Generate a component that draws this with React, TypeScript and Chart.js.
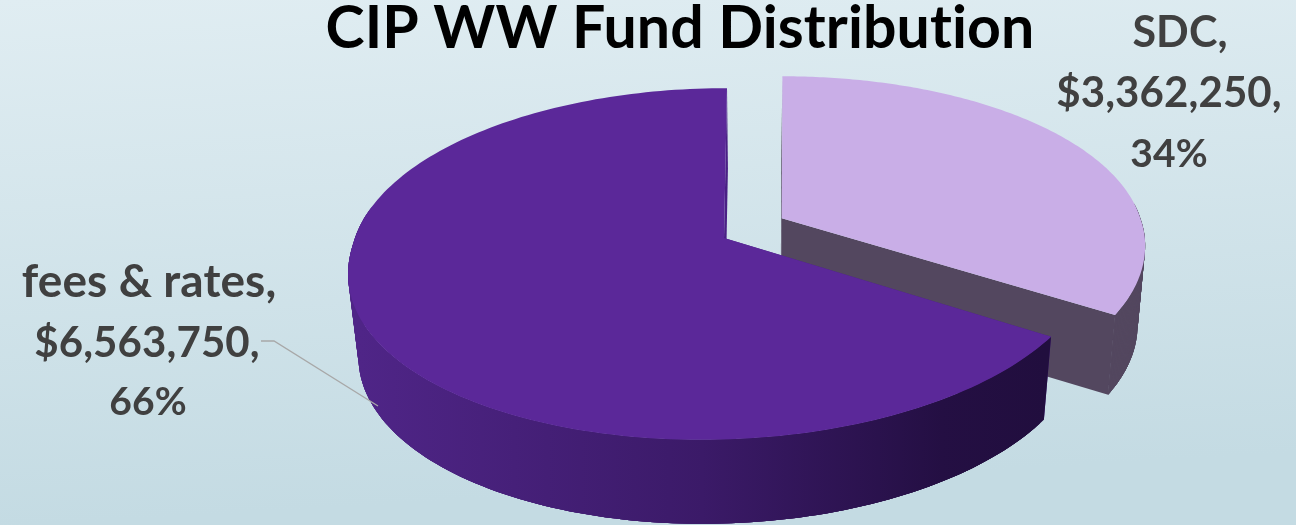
import React, { useEffect, useRef } from "react";
import { Chart, registerables } from "chart.js";

Chart.register(...registerables);

const categories = ["SDC", "fees & rates"];
const values = [3362250, 6563750];
const percentLabels = ["34%", "66%"];
const faceColors = ["#c9aee7", "#5b2899"];
const titleText = "CIP WW Fund Distribution";

// Perspective model of the pie's top plane
const APEX_X = 724, APEX_Y = 238, SCALE_X = 372, SCALE_Y = 172, PERSP = 0.1477;
const BOTTOM_SY = 1.01;
const DROP = [79, 82];
const BOTTOM_SX = [0.982, 0.975];
const RADII = [0.975, 1];
const SHIFT_X = [0.158, 0];
const SHIFT_Y = [-0.117, 0];

const project = (i: number, angle: number, r: number) => {
  const X = SHIFT_X[i] + r * RADII[i] * Math.cos(angle);
  const Y = SHIFT_Y[i] + r * RADII[i] * Math.sin(angle);
  const w = 1 - PERSP * Y;
  let x = APEX_X + (SCALE_X * X) / w;
  let y = APEX_Y + (SCALE_Y * Y) / w;
  if (i === 0) {
    x += 8 * Math.max(-Y - 0.117, 0) + 2 * Math.max(X - 0.158, 0);
    y += 10 * Math.max(Y, 0);
  } else {
    x += Y > 0 ? (-25 * Y * Y) / (Y + 0.1) : -3 * Y;
    x += X < 0 ? -3 * X : -5 * X;
  }
  return [x, y];
};
const lower = (i: number, p: number[]) => [
  APEX_X + (p[0] - APEX_X) * BOTTOM_SX[i] + (i === 1 ? 1 : 0),
  APEX_Y + DROP[i] + (p[1] - APEX_Y) * BOTTOM_SY,
];

const ARC_STEPS = 180;
const arcAngles = (a0: number, a1: number) => {
  const out: number[] = [];
  for (let k = 0; k <= ARC_STEPS; k++) out.push(a0 + ((a1 - a0) * k) / ARC_STEPS);
  return out;
};

const tracePoly = (ctx: CanvasRenderingContext2D, pts: number[][]) => {
  ctx.beginPath();
  pts.forEach((p, k) => (k ? ctx.lineTo(p[0], p[1]) : ctx.moveTo(p[0], p[1])));
  ctx.closePath();
};

const pie3d = {
  id: "pie3d",
  beforeDraw(chart: any) {
    const { ctx, width, height } = chart;
    const g = ctx.createLinearGradient(0, 0, 30, height);
    g.addColorStop(0, "#e0edf2");
    g.addColorStop(1, "#c4dbe3");
    ctx.fillStyle = g;
    ctx.fillRect(0, 0, width, height);
    (ctx as any).letterSpacing = "0.1px";
  },
  afterLayout(chart: any) {
    if (chart.titleBlock) {
      chart.titleBlock.left += 32;
      chart.titleBlock.right += 32;
      chart.titleBlock.top -= 6;
      chart.titleBlock.bottom -= 6;
    }
  },
  beforeDatasetsDraw(chart: any) {
    const { ctx } = chart;
    const arcs = chart.getDatasetMeta(0).data;
    // far slice first, the big slice over it
    [0, 1].forEach((i) => {
      const el = arcs[i];
      const angles = arcAngles(el.startAngle, el.endAngle);
      const top = angles.map((a) => project(i, a, 1));
      const apex = project(i, 0, 0);
      ctx.save();
      // cut walls
      ctx.fillStyle = i === 0 ? "#53475f" : "#4a2085";
      [top[0], top[top.length - 1]].forEach((edge) => {
        tracePoly(ctx, [apex, edge, lower(i, edge), lower(i, apex)]);
        ctx.fill();
      });
      // outer wall as overlapping ruled strips, front side only
      let paint: any = "#53475f";
      if (i === 1) {
        const g = ctx.createLinearGradient(360, 0, 1045, 0);
        g.addColorStop(0, "#4f2587");
        g.addColorStop(0.5, "#3b1a68");
        g.addColorStop(0.85, "#240f43");
        g.addColorStop(1, "#210e3e");
        paint = g;
      }
      ctx.fillStyle = paint;
      for (let k = 0; k < top.length - 1; k++) {
        if (Math.sin(angles[k]) < -0.1) continue;
        const e = Math.min(k + 4, top.length - 1);
        const band = top.slice(k, e + 1);
        tracePoly(ctx, [...band, ...band.map((p) => lower(i, p)).reverse()]);
        ctx.fill();
      }
      // top face
      tracePoly(ctx, [apex, ...top]);
      ctx.fillStyle = faceColors[i];
      ctx.fill();
      ctx.restore();
    });

    // leader line and data labels
    const money = (v: number) => "$" + v.toLocaleString("en-US") + ",";
    ctx.save();
    ctx.strokeStyle = "#a8a8a8";
    ctx.lineWidth = 1.3;
    ctx.beginPath();
    ctx.moveTo(261, 341);
    ctx.lineTo(274, 341);
    ctx.lineTo(378, 406);
    ctx.stroke();
    ctx.fillStyle = "#404040";
    ctx.textAlign = "center";
    ctx.textBaseline = "alphabetic";
    const sdcLines = [categories[0] + ",", money(values[0]), percentLabels[0]];
    const feeLines = [categories[1] + ",", money(values[1]), percentLabels[1]];
    const sdcX = [1180, 1169, 1169], sdcY = [47, 107, 167];
    const feeX = [149, 147, 148], feeY = [297, 357, 415];
    const sdcSizes = [43, 42, 39], feeSizes = [46, 42, 39];
    sdcLines.forEach((t, k) => {
      ctx.font = `bold ${sdcSizes[k]}px "Lato"`;
      ctx.fillText(t, sdcX[k], sdcY[k]);
    });
    feeLines.forEach((t, k) => {
      ctx.font = `bold ${feeSizes[k]}px "Lato"`;
      ctx.fillText(t, feeX[k], feeY[k]);
    });
    ctx.restore();
  },
  beforeDatasetDraw() {
    return false;
  },
};

export default function App() {
  const ref = useRef<HTMLCanvasElement>(null);
  useEffect(() => {
    document.body.style.margin = "0";
    const chart = new Chart(ref.current!, {
      type: "pie",
      data: {
        labels: categories,
        datasets: [{ data: values, backgroundColor: faceColors, borderWidth: 0 }],
      },
      options: {
        responsive: false,
        animation: false,
        rotation: 0,
        layout: { padding: 0 },
        plugins: {
          legend: { display: false },
          tooltip: { enabled: false },
          title: {
            display: true,
            text: titleText,
            color: "#000000",
            font: { family: "Lato", size: 59, weight: "bold" },
            padding: { top: 0, bottom: 0 },
          },
        },
      },
      plugins: [pie3d],
    } as any);
    return () => chart.destroy();
  }, []);
  return <canvas ref={ref} width={1296} height={525} style={{ display: "block" }} />;
}
